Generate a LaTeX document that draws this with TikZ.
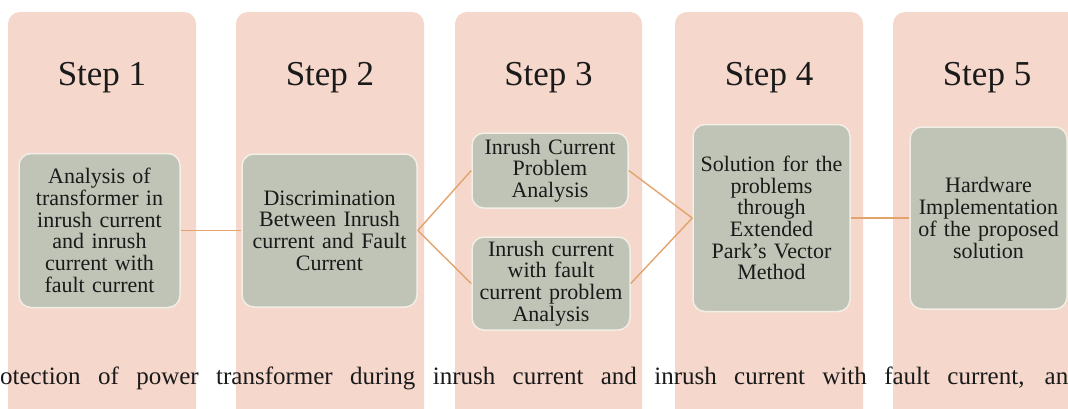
\documentclass[tikz,border=0pt]{standalone}
\usepackage{fontspec}
\setmainfont{Liberation Serif}
\definecolor{colpink}{HTML}{F5D7CC}
\definecolor{boxfill}{HTML}{BFC4B6}
\definecolor{boxline}{HTML}{F3EEE6}
\definecolor{linkcol}{HTML}{E2A46C}
\definecolor{inkcol}{HTML}{1A1A1A}
\tikzset{
  column/.style={fill=colpink, rounded corners=12pt},
  steptitle/.style={font=\fontsize{35}{40}\selectfont, text=inkcol, anchor=base},
  stepbox/.style n args={2}{draw=boxline, line width=1.5pt, fill=boxfill,
    rounded corners=12pt, align=center, inner sep=2pt,
    text width=#1pt-4pt, minimum height=#2pt,
    font=\fontsize{22}{21.7}\selectfont, text=inkcol},
  link/.style={draw=linkcol, line width=1.4pt}
}
\begin{document}
\begin{tikzpicture}[x=1pt,y=-1pt]
\clip (0,0) rectangle (1068,408);
\fill[white] (0,0) rectangle (1068,408);
% columns
\fill[column] (8,12) rectangle (196,440);
\fill[column] (236,12) rectangle (424,440);
\fill[column] (455,12) rectangle (642,440);
\fill[column] (675,12) rectangle (863,440);
\fill[column] (893,12) rectangle (1081,440);
% titles
\node[steptitle] (t1) at (102,85) {Step 1};
\node[steptitle] (t2) at (330,85) {Step 2};
\node[steptitle] (t3) at (548.5,85) {Step 3};
\node[steptitle] (t4) at (769,85) {Step 4};
\node[steptitle] (t5) at (987,85) {Step 5};
% boxes
\node[stepbox={161}{154}] (b1) at (99.5,230.5) {Analysis of\\transformer in\\inrush current\\and inrush\\current with\\fault current};
\node[stepbox={175}{153}] (b2) at (329.5,230.5) {Discrimination\\Between Inrush\\current and Fault\\Current};
\node[stepbox={156}{75}] (b3a) at (550,170.5) {Inrush Current\\Problem\\Analysis};
\node[stepbox={158}{93}] (b3b) at (551,283.5) {Inrush current\\with fault\\current problem\\Analysis};
\node[stepbox={157}{187}] (b4) at (771.5,218) {Solution for the\\problems\\through\\Extended\\Park's Vector\\Method};
\node[stepbox={157}{182}] (b5) at (988.5,218) {Hardware\\Implementation\\of the proposed\\solution};
% connectors
\draw[link] (b1.east) -- (b2.west);
\draw[link] (b2.east) -- (b3a.west);
\draw[link] (b2.east) -- (b3b.west);
\draw[link] (b3a.east) -- (b4.west);
\draw[link] (b3b.east) -- (b4.west);
\draw[link] (b4.east) -- (b5.west);
% overlapping body text
\node[anchor=base west, inner sep=0pt, font=\fontsize{25}{30}\selectfont, text=inkcol] (body) at (0,384)
  {\makebox[1068pt][s]{otection of power transformer during inrush current and inrush current with fault current, an}};
\end{tikzpicture}
\end{document}
